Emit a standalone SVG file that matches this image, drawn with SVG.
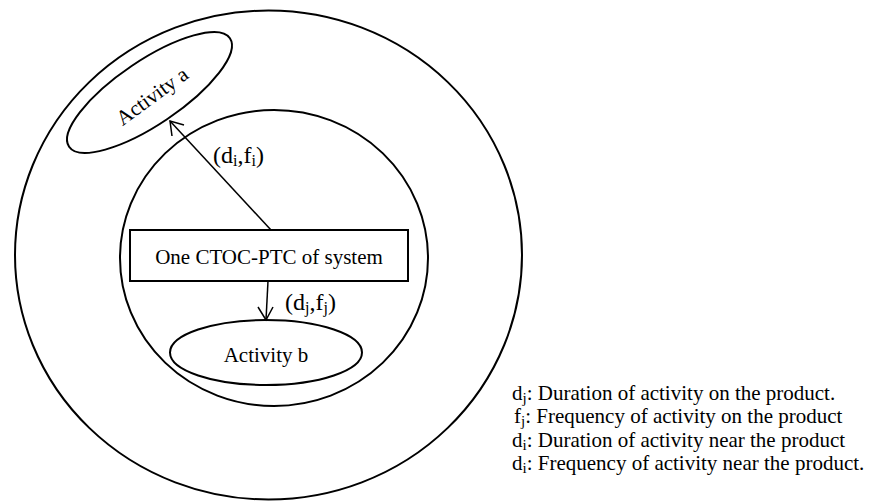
<svg xmlns="http://www.w3.org/2000/svg" width="869" height="502" viewBox="0 0 869 502">
<style>
.shape{fill:none;stroke:#000;stroke-width:2}
.conn{fill:none;stroke:#000;stroke-width:1.5}
text{font-family:"Liberation Serif","Times New Roman",serif;fill:#000}
.lbl{font-size:21px}
.edge{font-size:24px}
.leg{font-size:21px}
.sub{font-size:15px}
.esub{font-size:16px}
</style>
<rect width="869" height="502" fill="#fff"/>
<g id="outer"><ellipse class="shape" cx="268.5" cy="255" rx="253.5" ry="244.5"/></g>
<g id="inner"><ellipse class="shape" cx="274" cy="258" rx="154" ry="148"/></g>
<g id="activity-a">
<ellipse class="shape" cx="149.5" cy="92.5" rx="97" ry="32" transform="rotate(-34 149.5 92.5)"/>
<text class="lbl" x="152" y="103" text-anchor="middle" transform="rotate(-36 152 96)">Activity a</text>
</g>
<g id="ctoc">
<rect class="shape" x="130" y="230" width="278" height="51"/>
<text class="lbl" x="269" y="264" text-anchor="middle">One CTOC-PTC of system</text>
</g>
<g id="activity-b">
<ellipse class="shape" cx="266" cy="352.5" rx="96" ry="32.5"/>
<text class="lbl" x="266" y="362" text-anchor="middle">Activity b</text>
</g>
<g id="connectors">
<path class="conn" d="M271,230 L170,121"/>
<path class="conn" d="M172,136 L170,121 L184,125"/>
<path class="conn" d="M268,281 L266,320"/>
<path class="conn" d="M258,307 L266,320 L273,307"/>
<text class="edge" x="213" y="163">(d<tspan class="esub" dy="3">i</tspan><tspan dy="-3">,f</tspan><tspan class="esub" dy="3">i</tspan><tspan dy="-3">)</tspan></text>
<text class="edge" x="285" y="310">(d<tspan class="esub" dy="3">j</tspan><tspan dy="-3">,f</tspan><tspan class="esub" dy="3">j</tspan><tspan dy="-3">)</tspan></text>
</g>
<g id="legend">
<text class="leg" x="512" y="400">d<tspan class="sub" dy="3">j</tspan><tspan dy="-3">: Duration of activity on the product.</tspan></text>
<text class="leg" x="514" y="423">f<tspan class="sub" dy="3">j</tspan><tspan dy="-3">: Frequency of activity on the product</tspan></text>
<text class="leg" x="512" y="447">d<tspan class="sub" dy="3">i</tspan><tspan dy="-3">: Duration of activity near the product</tspan></text>
<text class="leg" x="512" y="470">d<tspan class="sub" dy="3">i</tspan><tspan dy="-3">: Frequency of activity near the product.</tspan></text>
</g>
</svg>
